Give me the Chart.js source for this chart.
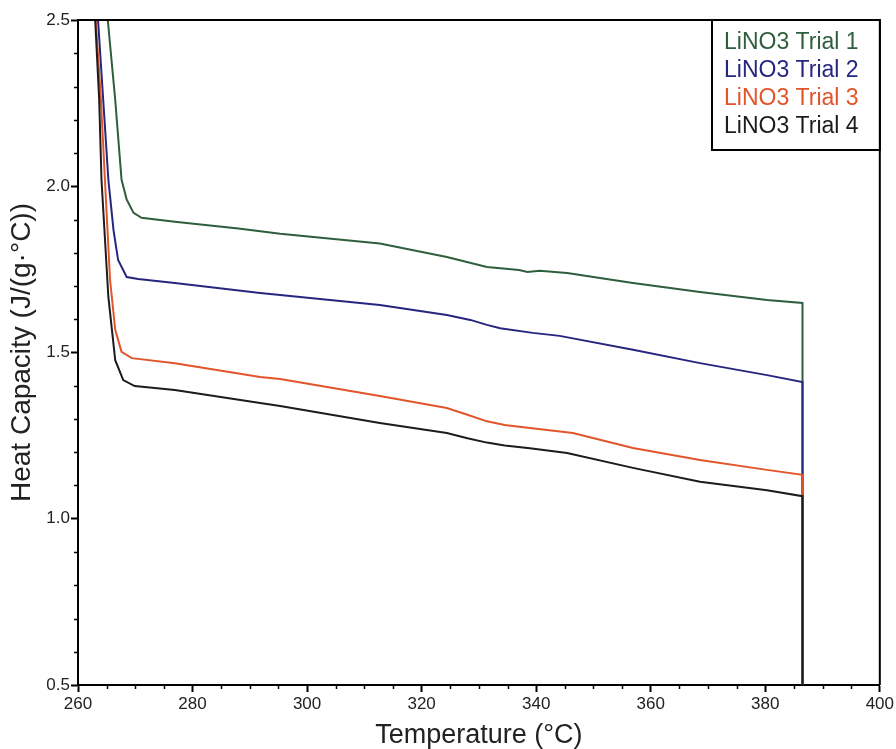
<!DOCTYPE html>
<html>
<head>
<meta charset="utf-8">
<script src="https://cdn.jsdelivr.net/npm/chart.js@4/dist/chart.umd.min.js"></script>
<style>
  html, body { margin: 0; padding: 0; background: #fff; }
  #wrap { width: 896px; height: 749px; position: relative; }
</style>
</head>
<body>
<div id="wrap"><canvas id="cp"></canvas></div>
<script>
// values
const trialLabels = ['LiNO3 Trial 1', 'LiNO3 Trial 2', 'LiNO3 Trial 3', 'LiNO3 Trial 4'];
const trialColors = ['#2f5e3d', '#27267f', '#e2552b', '#1c1c1c'];

const trial1Temp = [264.7, 265.2, 266.5, 267.6, 268.5, 269.7, 271.1, 276.9, 288.0, 295.3, 312.7, 324.4, 331.4, 337.0, 338.5, 340.6, 345.4, 356.9, 368.6, 380.3, 386.5, 386.5];
const trial1Cp   = [2.60, 2.50, 2.26, 2.02, 1.96, 1.92, 1.905, 1.893, 1.873, 1.857, 1.828, 1.787, 1.757, 1.748, 1.742, 1.746, 1.739, 1.709, 1.682, 1.658, 1.649, 0.5];

const trial2Temp = [263.3, 263.5, 264.4, 265.3, 266.2, 267.0, 268.5, 270.5, 276.9, 291.8, 295.3, 312.7, 324.4, 328.5, 331.4, 333.7, 339.4, 344.1, 356.9, 368.6, 380.3, 386.5, 386.5];
const trial2Cp   = [2.60, 2.50, 2.26, 2.02, 1.868, 1.778, 1.727, 1.721, 1.709, 1.679, 1.673, 1.643, 1.613, 1.598, 1.583, 1.573, 1.559, 1.55, 1.508, 1.468, 1.432, 1.411, 0.5];

const trial3Temp = [262.9, 263.1, 264.0, 264.7, 265.6, 266.5, 267.6, 269.4, 276.9, 291.8, 295.3, 312.7, 324.4, 328.0, 331.4, 334.5, 338.9, 346.4, 356.9, 368.6, 380.3, 386.5, 386.5];
const trial3Cp   = [2.60, 2.50, 2.26, 2.02, 1.718, 1.568, 1.502, 1.483, 1.468, 1.426, 1.42, 1.369, 1.333, 1.313, 1.293, 1.282, 1.273, 1.258, 1.213, 1.177, 1.147, 1.132, 0.5];

const trial4Temp = [262.8, 263.0, 263.7, 264.1, 265.3, 266.5, 267.9, 269.9, 276.9, 291.8, 295.3, 312.7, 324.4, 328.0, 331.4, 334.5, 338.9, 345.4, 356.9, 368.6, 380.3, 386.5, 386.5];
const trial4Cp   = [2.60, 2.50, 2.26, 2.02, 1.667, 1.477, 1.417, 1.399, 1.387, 1.348, 1.339, 1.288, 1.258, 1.242, 1.229, 1.220, 1.212, 1.198, 1.153, 1.111, 1.086, 1.068, 0.5];

const xTicks = [260, 280, 300, 320, 340, 360, 380, 400];
const yTicks = [0.5, 1.0, 1.5, 2.0, 2.5];

const temps = [trial1Temp, trial2Temp, trial3Temp, trial4Temp];
const cps = [trial1Cp, trial2Cp, trial3Cp, trial4Cp];

const FONT = '"Liberation Sans", Arial, sans-serif';

let datasets = [];
trialLabels.forEach((lab, i) => {
    datasets.push({
        label: lab,
        data: temps[i].map((t, j) => ({ x: t, y: cps[i][j] })),
        borderColor: trialColors[i],
        backgroundColor: trialColors[i],
        borderWidth: 2,
        pointRadius: 0,
        tension: 0,
        order: trialLabels.length - i   // later trials drawn on top
    });
});

// minor ticks, top/right frame and boxed legend
const framePlugin = {
    id: 'frame',
    afterDraw(chart) {
        const ctx = chart.ctx;
        const a = chart.chartArea;
        const xs = chart.scales.x, ys = chart.scales.y;
        ctx.save();
        ctx.strokeStyle = '#000';
        ctx.lineWidth = 1.5;
        ctx.beginPath();
        for (let v = 265; v < 400; v += 5) {
            if (v % 20 === 0) continue;
            const px = Math.round(xs.getPixelForValue(v)) + 0.5;
            ctx.moveTo(px, a.bottom);
            ctx.lineTo(px, a.bottom + 4);
        }
        for (let k = 6; k < 25; k++) {
            if (k % 5 === 0) continue;
            const py = Math.round(ys.getPixelForValue(k / 10)) + 0.5;
            ctx.moveTo(a.left, py);
            ctx.lineTo(a.left - 4, py);
        }
        ctx.stroke();

        ctx.lineWidth = 2;
        ctx.beginPath();
        ctx.moveTo(a.left, a.top);
        ctx.lineTo(a.right, a.top);
        ctx.lineTo(a.right, a.bottom);
        ctx.stroke();

        // legend box
        const boxL = 712, boxT = a.top, boxR = a.right, boxB = 150;
        ctx.fillStyle = '#fff';
        ctx.fillRect(boxL, boxT, boxR - boxL, boxB - boxT);
        ctx.strokeRect(boxL, boxT, boxR - boxL, boxB - boxT);
        ctx.font = '23px ' + FONT;
        ctx.textBaseline = 'alphabetic';
        ctx.textAlign = 'left';
        chart.data.datasets.forEach((ds, i) => {
            ctx.fillStyle = ds.borderColor;
            ctx.fillText(ds.label, 724, 49 + i * 28);
        });
        ctx.restore();
    }
};

new Chart(document.getElementById('cp'), {
    type: 'line',
    data: { datasets },
    options: {
        responsive: true,
        maintainAspectRatio: false,
        animation: false,
        layout: { padding: { top: 20, right: 16, left: 0, bottom: 0 } },
        plugins: {
            legend: { display: false },
            tooltip: { enabled: false }
        },
        scales: {
            x: {
                type: 'linear',
                min: 260,
                max: 400,
                afterBuildTicks: s => { s.ticks = xTicks.map(v => ({ value: v })); },
                afterFit: s => { s.height = 64; },
                border: { display: true, color: '#000', width: 2 },
                grid: { drawOnChartArea: false, drawTicks: true, tickLength: 7, tickColor: '#000', tickWidth: 2 },
                ticks: { color: '#222', font: { family: FONT, size: 17 }, padding: 2, maxRotation: 0 },
                title: {
                    display: true,
                    text: 'Temperature (°C)',
                    color: '#222',
                    font: { family: FONT, size: 27, lineHeight: 1.0 },
                    padding: { top: 0, bottom: 0 }
                }
            },
            y: {
                type: 'linear',
                min: 0.5,
                max: 2.5,
                afterBuildTicks: s => { s.ticks = yTicks.map(v => ({ value: v })); },
                afterFit: s => { s.width = 78; },
                border: { display: true, color: '#000', width: 2 },
                grid: { drawOnChartArea: false, drawTicks: true, tickLength: 7, tickColor: '#000', tickWidth: 2 },
                ticks: {
                    color: '#222',
                    font: { family: FONT, size: 17 },
                    padding: 1,
                    callback: v => v.toFixed(1)
                },
                title: {
                    display: true,
                    text: 'Heat Capacity (J/(g·°C))',
                    color: '#222',
                    font: { family: FONT, size: 28, lineHeight: 1.0 },
                    padding: { top: 8, bottom: 0 }
                }
            }
        }
    },
    plugins: [framePlugin]
});
</script>
</body>
</html>
